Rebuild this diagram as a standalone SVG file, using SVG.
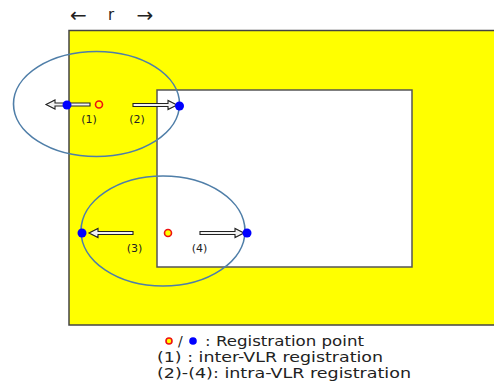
<svg xmlns="http://www.w3.org/2000/svg" width="494" height="383" viewBox="0 0 494 383">
<style>
.t{font-family:"DejaVu Sans","Liberation Sans",sans-serif;fill:#222}
.lbl{font-size:11px}
.leg{font-size:14px}
.rng{fill:none;stroke:#4f7ea8;stroke-width:1.6}
.arr{fill:#f2f2f2;stroke:#222;stroke-width:1.1}
.bd{fill:#0000ff}
.rd{fill:#ffff00;stroke:#ee1111;stroke-width:1.6}
</style>
<rect width="494" height="383" fill="#fff"/>
<g id="region">
<rect x="69" y="30.5" width="430" height="294.5" fill="#ffff00" stroke="#444" stroke-width="1.5"/>
<rect x="157" y="90" width="255" height="177" fill="#fff" stroke="#555" stroke-width="1.5"/>
</g>
<g id="scale">
<text class="t" x="78.5" y="22" font-size="20" text-anchor="middle">←</text>
<text class="t" x="111" y="20" font-size="15" text-anchor="middle">r</text>
<text class="t" x="145" y="22" font-size="20" text-anchor="middle">→</text>
</g>
<g id="circles">
<ellipse class="rng" cx="96.5" cy="104" rx="83" ry="52.5"/>
<ellipse class="rng" cx="163" cy="231" rx="82" ry="55"/>
</g>
<g id="connectors">
<path class="arr" d="M90,103 L55,103 L55,100 L46,104.5 L55,109 L55,106 L90,106 Z"/>
<path class="arr" d="M133,103.5 L168,103.5 L168,100.5 L177,105 L168,109.5 L168,106.5 L133,106.5 Z"/>
<path class="arr" d="M133,231.5 L98,231.5 L98,228.5 L89,233 L98,237.5 L98,234.5 L133,234.5 Z"/>
<path class="arr" d="M200,231.5 L235,231.5 L235,228.5 L244,233 L235,237.5 L235,234.5 L200,234.5 Z"/>
</g>
<g id="points">
<circle class="bd" cx="67" cy="105" r="4.5"/>
<circle class="rd" cx="99" cy="104.5" r="3.5"/>
<circle class="bd" cx="179.5" cy="106" r="4.5"/>
<circle class="bd" cx="82" cy="233" r="4.5"/>
<circle class="rd" cx="168" cy="233" r="3.5"/>
<circle class="bd" cx="247" cy="233" r="4.5"/>
</g>
<g id="labels">
<text class="t lbl" x="89" y="123" text-anchor="middle">(1)</text>
<text class="t lbl" x="137" y="123" text-anchor="middle">(2)</text>
<text class="t lbl" x="134.5" y="252" text-anchor="middle">(3)</text>
<text class="t lbl" x="199.5" y="252" text-anchor="middle">(4)</text>
</g>
<g id="legend">
<circle class="rd" cx="169" cy="341" r="3"/>
<text class="t leg" x="178" y="346">/</text>
<circle class="bd" cx="193" cy="341" r="3.8"/>
<text class="t leg" x="205" y="346" textLength="159" lengthAdjust="spacingAndGlyphs">: Registration point</text>
<text class="t leg" x="157" y="362" textLength="226" lengthAdjust="spacingAndGlyphs">(1) : inter-VLR registration</text>
<text class="t leg" x="157" y="378" textLength="254" lengthAdjust="spacingAndGlyphs">(2)-(4): intra-VLR registration</text>
</g>
</svg>
